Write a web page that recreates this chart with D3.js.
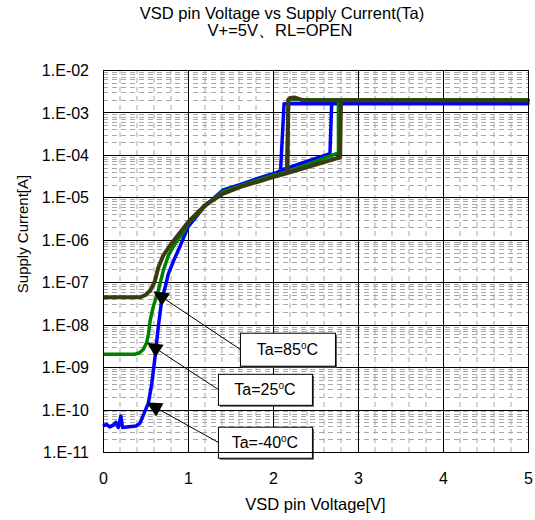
<!DOCTYPE html>
<html>
<head>
<meta charset="utf-8">
<script src="https://cdn.jsdelivr.net/npm/d3@7"></script>
<style>
  body { margin: 0; background: #fff; }
  svg { display: block; font-family: "Liberation Sans", Arial, sans-serif; }
</style>
</head>
<body>
<svg id="chart" width="535" height="520"></svg>
<script>
// each sweep: up along the low branch, jump, out to 5V, back to the drop point
const curveM40 = [[0, 4.1e-11], [0.04, 4.5e-11], [0.08, 3.9e-11], [0.12, 4.3e-11], [0.15, 5.0e-11],
  [0.18, 3.8e-11], [0.21, 7.0e-11], [0.23, 3.8e-11], [0.28, 3.9e-11], [0.39, 4.1e-11], [0.435, 4.8e-11],
  [0.47, 7e-11], [0.51, 1.1e-10], [0.533, 1.4e-10], [0.573, 4e-10], [0.612, 1.7e-9], [0.65, 8.7e-9],
  [0.69, 3.7e-8], [0.73, 7.5e-8], [0.77, 1.6e-7], [0.83, 3.2e-7], [0.906, 7e-7], [1.0, 2.0e-6],
  [1.08, 3.2e-6], [1.2, 6.3e-6], [1.415, 1.5e-5], [1.61, 2.0e-5], [1.81, 2.75e-5], [2.04, 3.8e-5],
  [2.1, 4.4e-5], [2.67, 1.07e-4], [2.69, 1.6e-3], [5, 1.6e-3], [2.13, 1.6e-3], [2.09, 4.6e-5]]
const curve25 = [[0, 2.0e-9], [0.2, 2.0e-9], [0.376, 2.0e-9], [0.43, 2.2e-9], [0.474, 2.6e-9],
  [0.514, 3.8e-9], [0.535, 6e-9], [0.555, 1.26e-8], [0.59, 2.6e-8], [0.65, 6.3e-8], [0.71, 1.9e-7],
  [0.77, 4.3e-7], [0.847, 8.1e-7], [0.945, 1.5e-6], [1.0, 2.4e-6], [1.2, 6.2e-6], [1.415, 1.38e-5],
  [1.61, 1.86e-5], [1.81, 2.5e-5], [2.0, 3.3e-5], [2.16, 3.9e-5], [2.77, 1.12e-4], [2.77, 2.0e-3],
  [5, 2.0e-3], [2.18, 2.0e-3], [2.16, 4.0e-5]]
const curve85 = [[0, 4.4e-8], [0.2, 4.4e-8], [0.435, 4.4e-8], [0.5, 5e-8], [0.553, 6.3e-8],
  [0.59, 8.5e-8], [0.612, 1.1e-7], [0.65, 2.2e-7], [0.71, 4.3e-7], [0.79, 7.4e-7], [0.847, 1.05e-6],
  [0.925, 1.66e-6], [1.0, 2.6e-6], [1.2, 6.5e-6], [1.415, 1.23e-5], [1.61, 1.74e-5], [1.81, 2.3e-5],
  [2.0, 3.0e-5], [2.18, 3.8e-5], [2.79, 8.8e-5], [2.8, 1.95e-3], [5, 1.92e-3], [2.35, 1.95e-3],
  [2.25, 2.25e-3], [2.2, 2.2e-3], [2.18, 2.0e-3], [2.17, 3.8e-5]]

const seriesData = [curveM40, curve25, curve85]
const seriesColors = ["#0000ff", "#008000", "#3c3a10"]

// annotations: label temp, arrow tip (V, A), box centre (V, A)
const annTemps = ["85", "25", "-40"]
const annTip = [[0.592, 6.1e-8], [0.518, 3.75e-9], [0.514, 1.46e-10]]
const annBox = [[2.17, 2.64e-9], [1.905, 3.0e-10], [1.905, 1.7e-11]]

const xTicks = [0, 1, 2, 3, 4, 5]
const yTicks = [1e-2, 1e-3, 1e-4, 1e-5, 1e-6, 1e-7, 1e-8, 1e-9, 1e-10, 1e-11]
const yTickLabels = ["1.E-02", "1.E-03", "1.E-04", "1.E-05", "1.E-06", "1.E-07", "1.E-08", "1.E-09", "1.E-10", "1.E-11"]

const margin = {left: 103, right: 7, top: 70, bottom: 68}
const W = 535, H = 520

const svg = d3.select("#chart")

const x = d3.scaleLinear().domain([0, 5]).range([margin.left, W - margin.right])
const y = d3.scaleLog().domain([1e-11, 1e-2]).range([H - margin.bottom, margin.top])

// minor grid
const xMinor = d3.range(0, 25).map(i => i * 0.2).filter(v => Math.abs(v - Math.round(v)) > 1e-6)
const yMinor = []
for (let e = -11; e < -2; e++) for (let k = 2; k <= 9; k++) yMinor.push(k * Math.pow(10, e))

const grid = svg.append("g")
grid.selectAll(".xm").data(xMinor).join("line")
  .attr("x1", d => x(d)).attr("x2", d => x(d))
  .attr("y1", y(1e-11)).attr("y2", y(1e-2))
  .attr("stroke", "#a8a8a8").attr("stroke-dasharray", "5,4")
grid.selectAll(".ym").data(yMinor).join("line")
  .attr("x1", x(0)).attr("x2", x(5))
  .attr("y1", d => Math.round(y(d)) + 0.5).attr("y2", d => Math.round(y(d)) + 0.5)
  .attr("stroke", "#a8a8a8").attr("stroke-dasharray", "5,4")

grid.selectAll(".xM").data(xTicks).join("line")
  .attr("x1", d => Math.round(x(d)) + 0.5).attr("x2", d => Math.round(x(d)) + 0.5)
  .attr("y1", y(1e-11)).attr("y2", y(1e-2))
  .attr("stroke", "#000")
grid.selectAll(".yM").data(yTicks).join("line")
  .attr("x1", x(0)).attr("x2", x(5))
  .attr("y1", d => Math.round(y(d)) + 0.5).attr("y2", d => Math.round(y(d)) + 0.5)
  .attr("stroke", "#000")

// axes labels
const xAxis = d3.axisBottom(x).tickValues(xTicks).tickFormat(d3.format("d")).tickSize(0).tickPadding(21)
const gx = svg.append("g").attr("transform", `translate(0,${y(1e-11)})`).call(xAxis)
gx.select(".domain").remove()
gx.selectAll("text").attr("font-size", 16).attr("font-family", "Liberation Sans, Arial, sans-serif").attr("fill", "#000")

const yAxis = d3.axisLeft(y).tickValues(yTicks).tickFormat((d, i) => yTickLabels[i]).tickSize(0).tickPadding(14)
const gy = svg.append("g").attr("transform", `translate(${x(0)},0)`).call(yAxis)
gy.select(".domain").remove()
gy.selectAll("text").attr("font-size", 16).attr("font-family", "Liberation Sans, Arial, sans-serif").attr("fill", "#000").attr("dy", "0.35em")

// curves
const line = d3.line().x(d => x(d[0])).y(d => y(d[1]))
svg.append("g").selectAll("path").data(seriesData).join("path")
  .attr("d", line)
  .attr("fill", "none")
  .attr("stroke", (d, i) => seriesColors[i])
  .attr("stroke-width", (d, i) => i == 2 ? 4 : 3.5)
  .attr("stroke-linejoin", "round")

// annotations
const boxW = [95, 94, 94], boxH = [33, 31, 31]
const ann = svg.append("g")
annTemps.forEach((t, i) => {
  const bx = x(annBox[i][0]), by = y(annBox[i][1])
  const sx = bx - boxW[i] / 2, sy = by
  const tx = x(annTip[i][0]), ty = y(annTip[i][1])
  const ang = Math.atan2(ty - sy, tx - sx)
  const L = 15, hw = 7.5
  const bxm = tx - L * Math.cos(ang), bym = ty - L * Math.sin(ang)
  ann.append("line")
    .attr("x1", sx).attr("y1", sy).attr("x2", bxm).attr("y2", bym)
    .attr("stroke", "#000").attr("stroke-width", 1)
  ann.append("path")
    .attr("d", `M${tx},${ty}L${bxm - hw * Math.sin(ang)},${bym + hw * Math.cos(ang)}L${bxm + hw * Math.sin(ang)},${bym - hw * Math.cos(ang)}Z`)
    .attr("fill", "#000")
  ann.append("rect")
    .attr("x", sx + 2).attr("y", by - boxH[i] / 2 + 2).attr("width", boxW[i]).attr("height", boxH[i])
    .attr("fill", "#555")
  ann.append("rect")
    .attr("x", sx + 0.5).attr("y", by - boxH[i] / 2 + 0.5).attr("width", boxW[i]).attr("height", boxH[i])
    .attr("fill", "#fff").attr("stroke", "#000")
  const txt = ann.append("text")
    .attr("x", bx).attr("y", by + 6).attr("text-anchor", "middle")
    .attr("font-size", 16)
  txt.append("tspan").text("Ta=" + t)
  txt.append("tspan").attr("font-size", 10).attr("dy", -6).text("o")
  txt.append("tspan").attr("dy", 6).text("C")
})

// plot border
svg.append("rect")
  .attr("x", Math.round(x(0)) + 0.5).attr("y", Math.round(y(1e-2)) + 0.5)
  .attr("width", Math.round(x(5)) - Math.round(x(0))).attr("height", Math.round(y(1e-11)) - Math.round(y(1e-2)))
  .attr("fill", "none").attr("stroke", "#000")

// titles
svg.append("text").attr("x", 282).attr("y", 19).attr("text-anchor", "middle").attr("font-size", 16.5)
  .text("VSD pin Voltage vs Supply Current(Ta)")
svg.append("text").attr("x", 280).attr("y", 36).attr("text-anchor", "middle").attr("font-size", 16.5)
  .text("V+=5V、RL=OPEN")
svg.append("text").attr("x", (x(0) + x(5)) / 2).attr("y", 510).attr("text-anchor", "middle").attr("font-size", 16.5)
  .text("VSD pin Voltage[V]")
svg.append("text").attr("transform", "translate(28,234) rotate(-90)").attr("text-anchor", "middle").attr("font-size", 15)
  .text("Supply Current[A]")
</script>
</body>
</html>
